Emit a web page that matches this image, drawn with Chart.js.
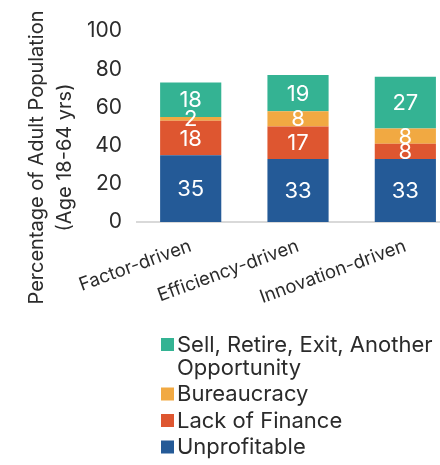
<!DOCTYPE html>
<html>
<head>
<meta charset="utf-8">
<script src="https://cdn.jsdelivr.net/npm/chart.js@4.4.0/dist/chart.umd.min.js"></script>
<style>
html, body { margin: 0; padding: 0; background: #fff; overflow: hidden; }
#wrap { position: relative; width: 460px; height: 465px; }
</style>
</head>
<body>
<div id="wrap"><canvas id="chartExits"></canvas></div>
<script>
'use strict'

const categories = ['Factor-driven', 'Efficiency-driven', 'Innovation-driven'];
const unprofitable = [35, 33, 33];
const lackOfFinance = [18, 17, 8];
const bureaucracy = [2, 8, 8];
const sellRetireExit = [18, 19, 27];
const yTitle = ['Percentage of Adult Population', '(Age 18-64 yrs)'];

const colors = {
	blue: '#245A97',
	red: '#DE5630',
	yellow: '#F1A942',
	teal: '#34B393',
	text: '#2b2b2b',
	axis: '#d9d9d9',
};

const fontFamily = 'Inter, "Liberation Sans", sans-serif';

// white numbers in the middle of each segment
const segmentLabels = {
	id: 'segmentLabels',
	afterDatasetsDraw(chart) {
		const ctx = chart.ctx;
		ctx.save();
		ctx.font = '22px ' + fontFamily;
		ctx.fillStyle = '#fff';
		ctx.textAlign = 'center';
		ctx.textBaseline = 'middle';
		chart.data.datasets.forEach((ds, i) => {
			chart.getDatasetMeta(i).data.forEach((bar, j) => {
				const p = bar.getCenterPoint();
				ctx.fillText(ds.data[j], p.x, p.y + 1);
			});
		});
		ctx.restore();
	},
};

// two line y title, sitting a bit lower than the chart area centre
const yAxisTitle = {
	id: 'yAxisTitle',
	afterDraw(chart) {
		const ctx = chart.ctx;
		const area = chart.chartArea;
		const cy = (area.top + area.bottom) / 2 + 31;
		ctx.save();
		ctx.font = '20px ' + fontFamily;
		ctx.fillStyle = colors.text;
		ctx.textAlign = 'center';
		ctx.textBaseline = 'middle';
		yTitle.forEach((line, i) => {
			ctx.save();
			ctx.translate(37 + i * 28, cy);
			ctx.rotate(-Math.PI / 2);
			ctx.fillText(line, 0, 0);
			ctx.restore();
		});
		ctx.restore();
	},
};

// vertical legend under the chart, top item first, long names wrapped
const stackLegend = {
	id: 'stackLegend',
	afterDraw(chart) {
		const ctx = chart.ctx;
		const boxX = 161, textX = 177, maxW = 266;
		let y = 345;
		ctx.save();
		ctx.font = '22px ' + fontFamily;
		ctx.textBaseline = 'middle';
		ctx.textAlign = 'left';
		chart.data.datasets.slice().reverse().forEach((ds) => {
			ctx.fillStyle = ds.backgroundColor;
			ctx.fillRect(boxX, y - 7, 13, 13);
			const words = ds.label.split(' ');
			const lines = [];
			let cur = '';
			words.forEach((w) => {
				const test = cur ? cur + ' ' + w : w;
				if (ctx.measureText(test).width > maxW && cur) {
					lines.push(cur);
					cur = w;
				} else {
					cur = test;
				}
			});
			lines.push(cur);
			ctx.fillStyle = colors.text;
			lines.forEach((line, k) => {
				ctx.fillText(line, textX, y + k * 23);
			});
			y += (lines.length - 1) * 23 + 26.5;
		});
		ctx.restore();
	},
};

const chartExits = new Chart(document.getElementById('chartExits'), {
	type: 'bar',
	data: {
		labels: categories,
		datasets: [
			{ label: 'Unprofitable', data: unprofitable, backgroundColor: colors.blue },
			{ label: 'Lack of Finance', data: lackOfFinance, backgroundColor: colors.red },
			{ label: 'Bureaucracy', data: bureaucracy, backgroundColor: colors.yellow },
			{ label: 'Sell, Retire, Exit, Another Opportunity', data: sellRetireExit, backgroundColor: colors.teal },
		],
	},
	options: {
		responsive: true,
		maintainAspectRatio: false,
		animation: false,
		categoryPercentage: 1,
		barPercentage: 0.57,
		layout: {
			padding: { left: 80, top: 31, right: 1, bottom: 0 },
		},
		plugins: {
			legend: { display: false },
			tooltip: { enabled: false },
		},
		scales: {
			x: {
				stacked: true,
				grid: { display: false },
				border: { color: colors.axis, width: 2 },
				ticks: {
					color: colors.text,
					font: { family: fontFamily, size: 18.5 },
					minRotation: 20,
					maxRotation: 20,
					padding: 5,
				},
				afterFit(scale) {
					scale.height = 243;
				},
			},
			y: {
				stacked: true,
				min: 0,
				max: 100,
				grid: { display: false },
				border: { display: false },
				ticks: {
					stepSize: 20,
					color: colors.text,
					font: { family: fontFamily, size: 21 },
					padding: 7,
				},
			},
		},
	},
	plugins: [segmentLabels, yAxisTitle, stackLegend],
});
</script>
</body>
</html>
